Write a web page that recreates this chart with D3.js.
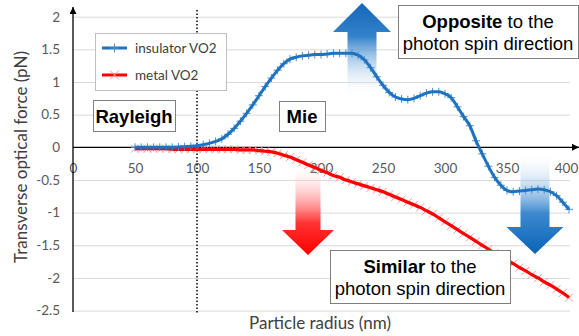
<!DOCTYPE html>
<html>
<head>
<meta charset="utf-8">
<script src="https://cdn.jsdelivr.net/npm/d3@7"></script>
<style>
  body { margin: 0; background: #fff; }
  svg { display: block; font-family: Lato, "Liberation Sans", sans-serif; }
  .box text { font-family: "Liberation Sans", Arial, sans-serif; }
</style>
</head>
<body>
<div id="chart"></div>
<script>
// radius (nm), 5 nm steps
const radius = d3.range(50, 401, 5);
const insulator = [
  0, 0, 0, 0, 0, 0, 0, 0.005, 0.01, 0.015,
  0.025, 0.04, 0.06, 0.09, 0.13, 0.2, 0.29, 0.4, 0.52, 0.65,
  0.79, 0.93, 1.06, 1.18, 1.28, 1.35, 1.38, 1.4, 1.41, 1.42,
  1.42, 1.43, 1.44, 1.44, 1.44, 1.44, 1.41, 1.34, 1.22, 1.08,
  0.95, 0.84, 0.77, 0.74, 0.73, 0.75, 0.79, 0.83, 0.85, 0.85,
  0.82, 0.76, 0.62, 0.47, 0.33, 0.1, -0.1, -0.29, -0.46, -0.58,
  -0.66, -0.68, -0.67, -0.66, -0.65, -0.64, -0.65, -0.68, -0.74, -0.84,
  -0.95
];
const metal = [
  -0.02, -0.02, -0.02, -0.02, -0.02, -0.02, -0.03, -0.03, -0.03, -0.03,
  -0.03, -0.03, -0.03, -0.03, -0.03, -0.03, -0.03, -0.04, -0.04, -0.04,
  -0.05, -0.06, -0.07, -0.09, -0.12, -0.15, -0.19, -0.23, -0.27, -0.31,
  -0.35, -0.39, -0.43, -0.46, -0.5, -0.53, -0.56, -0.59, -0.62, -0.65,
  -0.68, -0.72, -0.76, -0.8, -0.84, -0.88, -0.92, -0.97, -1.02, -1.08,
  -1.14, -1.2, -1.26, -1.32, -1.38, -1.44, -1.5, -1.56, -1.62, -1.67,
  -1.73, -1.78, -1.84, -1.89, -1.95, -2.0, -2.06, -2.11, -2.17, -2.23,
  -2.3
];
const xTicks = [0, 50, 100, 150, 200, 250, 300, 350, 400];
const yTicks = [2, 1.5, 1, 0.5, 0, -0.5, -1, -1.5, -2, -2.5];

const width = 579, height = 336;
const x = d3.scaleLinear().domain([0, 400]).range([73, 569]);
const y = d3.scaleLinear().domain([-2.5, 2]).range([310.6, 16.7]);

const svg = d3.select('#chart').append('svg')
  .attr('width', width)
  .attr('height', height);

const defs = svg.append('defs');
defs.append('marker')
  .attr('id', 'arrow')
  .attr('viewBox', '0 0 10 10')
  .attr('refX', 10).attr('refY', 5)
  .attr('markerWidth', 7).attr('markerHeight', 7)
  .attr('markerUnits', 'userSpaceOnUse')
  .attr('orient', 'auto')
  .append('path').attr('d', 'M0,0L10,5L0,10Z').attr('fill', '#000');

function grad(id, stops) {
  const g = defs.append('linearGradient').attr('id', id)
    .attr('x1', 0).attr('y1', 0).attr('x2', 0).attr('y2', 1);
  stops.forEach(s => g.append('stop')
    .attr('offset', s[0]).attr('stop-color', s[1]).attr('stop-opacity', s[2]));
}
grad('gBlueUp', [[0, '#1766b9', 1], [0.35, '#3282cb', 1], [1, '#ffffff', 0]]);
grad('gBlueDown', [[0, '#ffffff', 0], [0.6, '#3c89cf', 1], [1, '#0a63b6', 1]]);
grad('gRed', [[0, '#ffffff', 0], [0.65, '#ff3333', 1], [1, '#ff0000', 1]]);

// gridlines
svg.append('g')
  .attr('transform', 'translate(' + x(0) + ',0)')
  .call(d3.axisLeft(y).tickValues(yTicks.filter(d => d !== 0))
    .tickSize(-(x(400) - x(0) + 1)).tickFormat(''))
  .call(g => g.select('.domain').remove())
  .selectAll('line').attr('stroke', '#d9d9d9').attr('stroke-width', 1);

// y tick labels
svg.append('g')
  .attr('transform', 'translate(' + x(0) + ',0)')
  .call(d3.axisLeft(y).tickValues(yTicks).tickSize(0).tickPadding(13)
    .tickFormat(d => String(d)))
  .call(g => g.select('.domain').remove())
  .selectAll('text').attr('font-size', 13.5).attr('fill', '#595959')
  .attr('font-family', 'Lato, sans-serif');

// x tick labels (last one nudged so it stays inside the page)
svg.append('g')
  .attr('transform', 'translate(0,' + y(0) + ')')
  .call(d3.axisBottom(x).tickValues(xTicks).tickSize(0).tickPadding(16)
    .tickFormat(d => String(d)))
  .call(g => g.select('.domain').remove())
  .selectAll('text').attr('font-size', 13.5).attr('fill', '#595959')
  .attr('font-family', 'Lato, sans-serif')
  .attr('dx', d => d === 400 ? -3 : 0);

// dotted line at 100 nm
svg.append('line')
  .attr('x1', x(100)).attr('x2', x(100))
  .attr('y1', 10).attr('y2', 313)
  .attr('stroke', '#000').attr('stroke-width', 1.5)
  .attr('stroke-dasharray', '1.5,2');

// axes lines
svg.append('line')
  .attr('x1', x(0)).attr('x2', x(0))
  .attr('y1', 312).attr('y2', 7)
  .attr('stroke', '#000').attr('stroke-width', 1.3)
  .attr('marker-end', 'url(#arrow)');
svg.append('line')
  .attr('x1', x(0)).attr('x2', 579)
  .attr('y1', y(0)).attr('y2', y(0))
  .attr('stroke', '#000').attr('stroke-width', 1.3)
  .attr('marker-end', 'url(#arrow)');

// arrows
function arrow(tipX, tipY, headW, headLen, shaftW, shaftLen, dir, fill) {
  const s = dir; // -1 up, 1 down
  const baseY = tipY - s * headLen;
  const endY = baseY - s * shaftLen;
  const p = d3.path();
  p.moveTo(tipX, tipY);
  p.lineTo(tipX + headW / 2, baseY);
  p.lineTo(tipX + shaftW / 2, baseY);
  p.lineTo(tipX + shaftW / 2, endY);
  p.lineTo(tipX - shaftW / 2, endY);
  p.lineTo(tipX - shaftW / 2, baseY);
  p.lineTo(tipX - headW / 2, baseY);
  p.closePath();
  svg.append('path').attr('d', p.toString()).attr('fill', fill);
}
arrow(362, 3, 58, 29, 29, 66, -1, 'url(#gBlueUp)');
arrow(308, 255, 52, 25, 25, 67, 1, 'url(#gRed)');
arrow(535, 254, 57, 27, 29, 75, 1, 'url(#gBlueDown)');

// series
const line = d3.line().x(d => x(d[0])).y(d => y(d[1])).curve(d3.curveMonotoneX);
const blueData = radius.map((r, i) => [r, insulator[i]]);
const redData = radius.map((r, i) => [r, metal[i]]);

function plus(g, cx, cy, s, color) {
  g.append('path').attr('d', `M${cx - s},${cy}H${cx + s}M${cx},${cy - s}V${cy + s}`)
    .attr('stroke', color).attr('stroke-width', 1).attr('fill', 'none');
}
function cross(g, cx, cy, s, color) {
  g.append('path').attr('d', `M${cx - s},${cy - s}L${cx + s},${cy + s}M${cx - s},${cy + s}L${cx + s},${cy - s}`)
    .attr('stroke', color).attr('stroke-width', 1).attr('fill', 'none');
}

const redMarks = svg.append('g');
redData.forEach(d => cross(redMarks, x(d[0]), y(d[1]), 4, '#f29a9a'));
svg.append('path').datum(redData).attr('d', line)
  .attr('fill', 'none').attr('stroke', '#ff0000').attr('stroke-width', 3.2);

const blueMarks = svg.append('g');
blueData.forEach(d => plus(blueMarks, x(d[0]), y(d[1]), 4, '#4a8fd0'));
svg.append('path').datum(blueData).attr('d', line)
  .attr('fill', 'none').attr('stroke', '#1f72c0').attr('stroke-width', 3);

// axis titles
svg.append('text')
  .attr('x', 320).attr('y', 329)
  .attr('text-anchor', 'middle')
  .attr('font-size', 17).attr('fill', '#404040')
  .text('Particle radius (nm)');
svg.append('text')
  .attr('transform', 'translate(27,157) rotate(-90)')
  .attr('text-anchor', 'middle')
  .attr('font-size', 17).attr('fill', '#404040')
  .text('Transverse optical force (pN)');

// legend
const legend = svg.append('g');
legend.append('rect')
  .attr('x', 95.5).attr('y', 33.5).attr('width', 131).attr('height', 57)
  .attr('fill', '#fff').attr('stroke', '#bfbfbf');
const legendItems = [
  { name: 'insulator VO2', color: '#1f72c0', mark: '#4a8fd0', ly: 48, fn: plus },
  { name: 'metal VO2', color: '#ff0000', mark: '#f29a9a', ly: 75, fn: cross }
];
legendItems.forEach(it => {
  legend.append('line').attr('x1', 102).attr('x2', 127)
    .attr('y1', it.ly).attr('y2', it.ly)
    .attr('stroke', it.color).attr('stroke-width', 3);
  it.fn(legend, 114.5, it.ly, 4.5, it.mark);
  legend.append('text').attr('x', 135).attr('y', it.ly + 4.5)
    .attr('font-size', 13.5).attr('fill', '#404040').text(it.name);
});

// annotation boxes
function box(x0, y0, w, h) {
  const g = svg.append('g').attr('class', 'box');
  g.append('rect').attr('x', x0 + 0.5).attr('y', y0 + 0.5)
    .attr('width', w).attr('height', h)
    .attr('fill', '#fff').attr('stroke', '#7f7f7f').attr('stroke-width', 1);
  return g;
}
box(93, 100, 82, 31).append('text')
  .attr('x', 134).attr('y', 123).attr('text-anchor', 'middle')
  .attr('font-size', 18.5).attr('font-weight', 'bold').text('Rayleigh');
box(279, 101, 46, 30).append('text')
  .attr('x', 302).attr('y', 123).attr('text-anchor', 'middle')
  .attr('font-size', 18.5).attr('font-weight', 'bold').text('Mie');

function twoLine(g, cx, y1, bold, rest) {
  const t = g.append('text').attr('x', cx).attr('y', y1)
    .attr('text-anchor', 'middle').attr('font-size', 18.5).attr('fill', '#000');
  t.append('tspan').attr('font-weight', 'bold').text(bold);
  t.append('tspan').text(rest);
  g.append('text').attr('x', cx).attr('y', y1 + 21.5)
    .attr('text-anchor', 'middle').attr('font-size', 18.5).attr('fill', '#000')
    .text('photon spin direction');
}
twoLine(box(398, 5, 180, 53), 488, 28, 'Opposite', ' to the');
twoLine(box(330, 250, 180, 53), 420, 273, 'Similar', ' to the');
</script>
</body>
</html>
